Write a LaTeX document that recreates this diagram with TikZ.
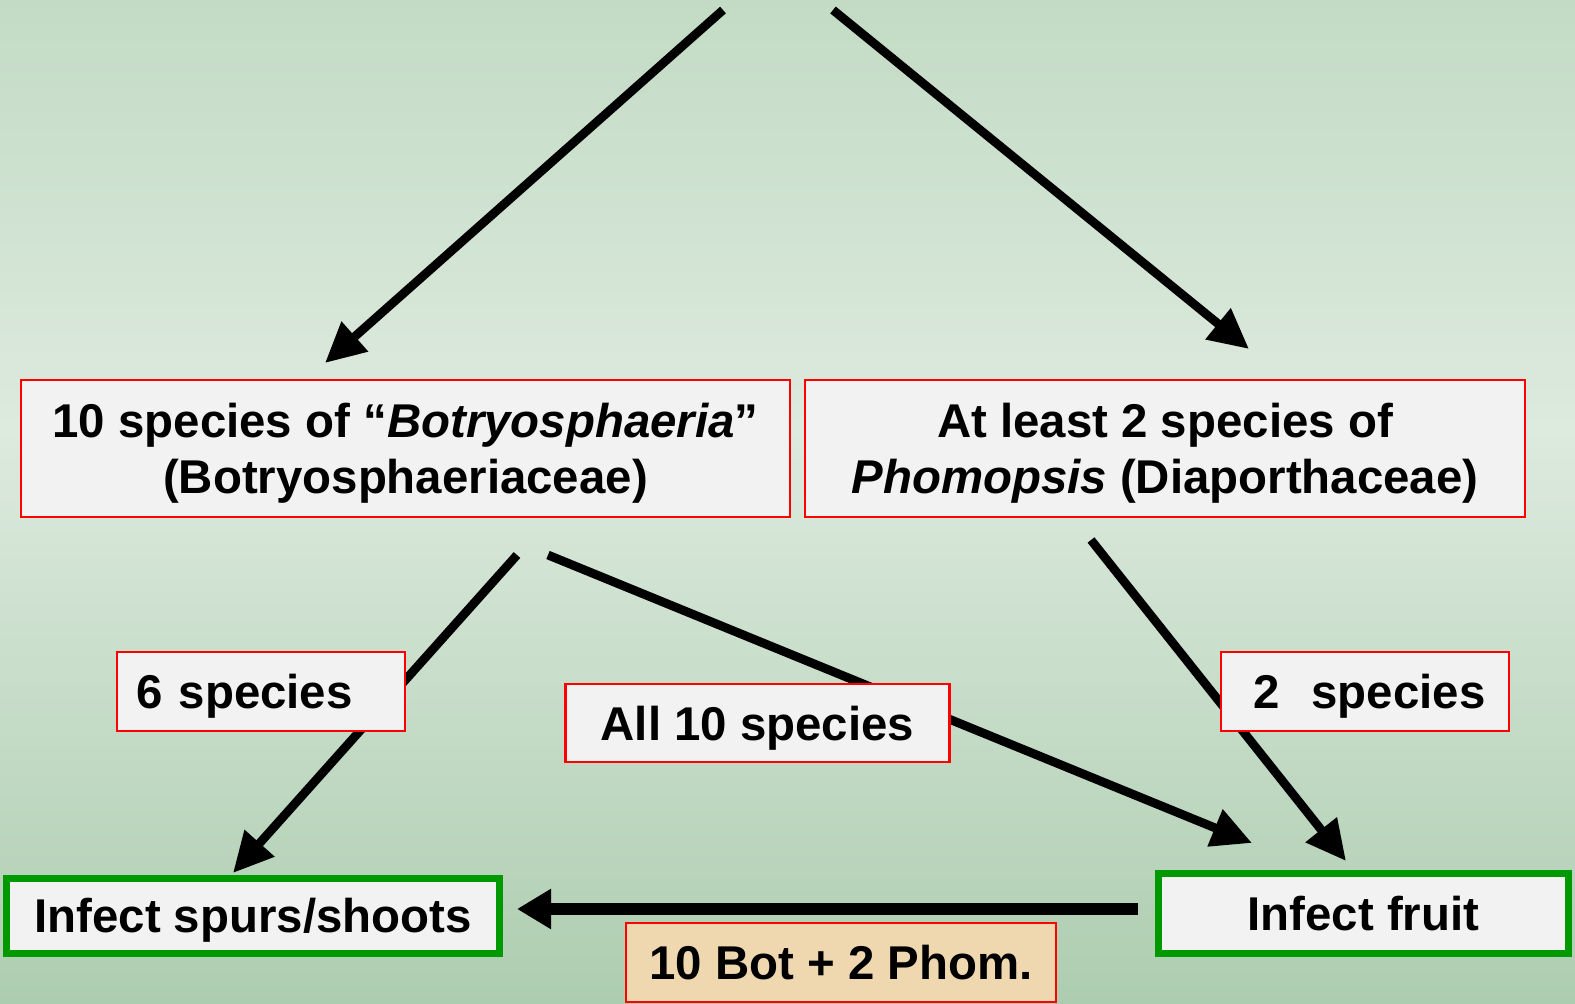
\documentclass[tikz,border=0pt]{standalone}
\usepackage{fontspec}
\setmainfont{Liberation Sans}
\usetikzlibrary{arrows.meta}
\definecolor{bgtop}{HTML}{C3DBC5}
\definecolor{bgmid}{HTML}{DDEADE}
\definecolor{bgbot}{HTML}{ADCDB0}
\definecolor{boxfill}{HTML}{F2F2F2}
\definecolor{tanfill}{HTML}{EFD7AF}
\definecolor{grn}{HTML}{009900}
\begin{document}
\begin{tikzpicture}[x=0.5pt,y=-0.5pt,
 txt/.style={font=\fontsize{23.7}{28}\selectfont\bfseries},
 oneline/.style={text height=17pt, text depth=0pt},
 twoline/.style={text depth=0pt},
 redbox/.style={txt, draw=red, line width=1.1pt, fill=boxfill, inner sep=0pt, align=center},
 greenbox/.style={txt, oneline, draw=grn, line width=3.5pt, fill=boxfill, inner sep=0pt},
 arr/.style={line width=4.4pt, -{Triangle[length=20pt,width=19pt]}},
 bigarr/.style={line width=6pt, -{Triangle[length=17pt,width=19pt]}},
]
\useasboundingbox (0,0) rectangle (1575,1004);
\shade[top color=bgtop, bottom color=bgmid] (0,0) rectangle (1575,430);
\shade[top color=bgmid, bottom color=bgbot] (0,429) rectangle (1575,1004);

% arrow end points
\coordinate (a0) at (723,10);   \coordinate (a1) at (325,363);
\coordinate (b0) at (833,10);   \coordinate (b1) at (1249,349);
\coordinate (c0) at (517,555);  \coordinate (c1) at (233,873);
\coordinate (d0) at (548,555);  \coordinate (d1) at (1252,843);
\coordinate (e0) at (1091,540); \coordinate (e1) at (1346,861);
\coordinate (f0) at (1138,909); \coordinate (f1) at (517,909);

\draw[arr] (a0) -- (a1);
\draw[arr] (b0) -- (b1);
\draw[arr] (c0) -- (c1);
\draw[arr] (d0) -- (d1);
\draw[arr] (e0) -- (e1);
\draw[bigarr] (f0) -- (f1);

\node[redbox, twoline, minimum width=384.5pt, minimum height=68.5pt] (bot) at (405.5,448.5)
  {10 species of “\textit{Botryosphaeria}”\\(Botryosphaeriaceae)};
\node[redbox, twoline, minimum width=360pt, minimum height=68.5pt] (pho) at (1165,448.5)
  {At least 2 species of\\\textit{Phomopsis} (Diaporthaceae)};
\node[redbox, oneline, minimum width=144pt, minimum height=39.6pt, inner xsep=10pt, text width=124pt, align=left] (six) at (260.6,691.6) {6 species};
\node[redbox, oneline, minimum width=192pt, minimum height=39.2pt] (all) at (757.4,723.2) {All 10 species};
\node[redbox, oneline, minimum width=144pt, minimum height=39.6pt, inner xsep=16.5pt, text width=111pt, align=left] (two) at (1364.6,691.6) {\mbox{2\ \ species}};
\node[greenbox, minimum width=246.5pt, minimum height=37.5pt] (spurs) at (253,916) {Infect spurs/shoots};
\node[greenbox, minimum width=205pt, minimum height=40pt] (fruit) at (1363.5,913.5) {Infect fruit};
\node[redbox, oneline, fill=tanfill, minimum width=215pt, minimum height=39.5pt] (tot) at (841,962.5) {10 Bot + 2 Phom.};
\end{tikzpicture}
\end{document}
